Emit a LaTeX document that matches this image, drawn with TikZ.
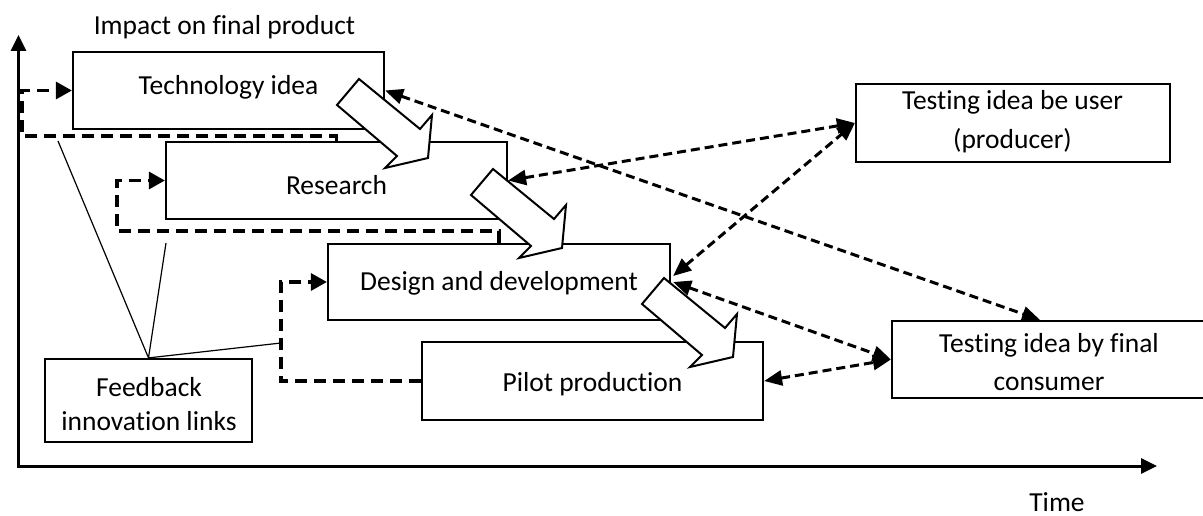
\documentclass[tikz,border=0pt]{standalone}
\usepackage{fontspec}
\setmainfont{Carlito}[Ligatures=NoCommon]
\usetikzlibrary{arrows.meta,calc}
\tikzset{
  box/.style={draw=black,line width=2.2pt,fill=white,inner sep=0pt,rectangle},
  txt/.style={inner sep=0pt,anchor=base,font=\fontsize{27.5}{33}\selectfont},
  fbdash/.style={line width=3.2pt,dash pattern=on 12pt off 7pt},
  fbhead/.style={-{Triangle[length=16pt,width=17pt]}},
  dasharrow/.style={line width=3pt,dash pattern=on 9pt off 5pt,
    {Triangle[length=18pt,width=15pt]}-{Triangle[length=18pt,width=15pt]}},
  fbline/.style={line width=1.2pt},
  axisline/.style={line width=3pt,line join=miter},
  barrow/.pic={\draw[line width=2pt,fill=white,line join=miter]
     (0,0)--(61,50)--(73,36)--(69,79)--(26,89)--(38,77)--(-22,26)--cycle;}
}
\begin{document}
\begin{tikzpicture}[x=1pt,y=-1pt]
\clip (0,0) rectangle (1203,516);
% axes
\coordinate (ytop) at (18.5,35);
\coordinate (origin) at (18.5,466);
\coordinate (xend) at (1157,466);
\draw[axisline,{Triangle[length=16pt,width=15pt]}-{Triangle[length=16pt,width=15pt]}] (ytop) -- (origin) -- (xend);
\node[txt] (imp) at (224.5,34.4) {Impact on final product};
\node[txt] (time) at (1057,511) {Time};
% boxes
\node[box,minimum width=311pt,minimum height=77pt] (tech) at (228.5,90.5) {};
\node[box,minimum width=341pt,minimum height=77pt] (research) at (336.5,180.5) {};
\node[box,minimum width=342pt,minimum height=76pt] (design) at (499,282) {};
\node[box,minimum width=341pt,minimum height=78pt] (pilot) at (592.5,381) {};
\node[box,minimum width=314pt,minimum height=78pt] (user) at (1013,123) {};
\node[box,minimum width=314pt,minimum height=77pt] (final) at (1049,359.5) {};
\node[box,minimum width=207pt,minimum height=83pt] (fb) at (148.5,400.5) {};
% texts
\node[txt] (techT) at (228.5,94.4) {Technology idea};
\node[txt] (resT) at (336.5,194.4) {Research};
\node[txt] (desT) at (499,290.4) {Design and development};
\node[txt] (pilT) at (592.5,391.7) {Pilot production};
\node[txt] (userT1) at (1012.5,110) {Testing idea be user};
\node[txt] (userT2) at (1012.5,148.6) {(producer)};
\node[txt] (finT1) at (1049,352.7) {Testing idea by final};
\node[txt] (finT2) at (1049,390.7) {consumer};
\node[txt] (fbT1) at (149,396.5) {Feedback};
\node[txt] (fbT2) at (149,430) {innovation links};
% feedback dashed loops
\draw[fbdash,fbhead] (research.north) |- (22,136) |- (tech.west);
\draw[fbdash,fbhead] (design.north) |- (117,231) |- (research.west);
\draw[fbdash,fbhead] (pilot.west) -- (281,381) |- (design.west);
% feedback thin links
\coordinate (fbA) at (58,141);
\coordinate (fbB) at (166,243);
\coordinate (fbC) at (281,343);
\draw[fbline] (fbA) -- (fb.north) -- (fbB);
\draw[fbline] (fb.north) -- (fbC);
% block arrows
\pic at (359,79) {barrow};
\pic at (493,169) {barrow};
\pic at (664,278) {barrow};
% dashed double arrows
\draw[dasharrow] (tech.east) -- ($(final.north)+(-9,0)$);
\draw[dasharrow] (research.east) -- (user.west);
\draw[dasharrow] ($(design.east)+(2,-6)$) -- (user.west);
\draw[dasharrow] ($(design.east)+(2,0)$) -- (final.west);
\draw[dasharrow] (pilot.east) -- (final.west);
\end{tikzpicture}
\end{document}
